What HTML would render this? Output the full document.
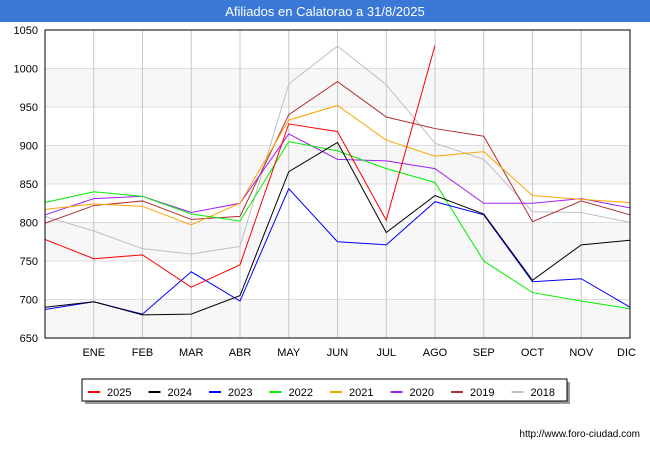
<!DOCTYPE html>
<html><head><meta charset="utf-8"><style>
body{margin:0;width:650px;height:450px;background:#fff;font-family:"Liberation Sans",sans-serif;overflow:hidden}
</style></head><body>
<svg width="650" height="450" xmlns="http://www.w3.org/2000/svg" font-family="Liberation Sans, sans-serif">
<rect x="0" y="0" width="650" height="22" fill="#3a78d8"/>
<text x="325" y="16" text-anchor="middle" fill="#fff" font-size="13">Afiliados en Calatorao a 31/8/2025</text>
<g id="grid"></g>
<g id="series"></g>
<rect x="45" y="30" width="585" height="308" fill="none" stroke="#000" stroke-width="1"/>
<g id="axes" font-size="11"></g>
<rect x="85" y="382" width="485" height="22" fill="#999"/>
<rect x="82" y="379" width="485" height="22" fill="#fff" stroke="#000"/>
<g id="legend" font-size="11"></g>
<text x="640" y="437" text-anchor="end" font-size="10" fill="#000">http://www.foro-ciudad.com</text>
</svg>
<script>
const months=["","ENE","FEB","MAR","ABR","MAY","JUN","JUL","AGO","SEP","OCT","NOV","DIC"];
const yTicks=[650,700,750,800,850,900,950,1000,1050];
const years=["2025","2024","2023","2022","2021","2020","2019","2018"];
const colors=["#ff0000","#000000","#0000ff","#00ee00","#ffa500","#a020f0","#b03030","#c0c0c0"];
const s2025=[778,753,758,716,745,928,918,803,1030];
const s2024=[690,697,680,681,705,866,904,787,835,811,725,771,777];
const s2023=[687,697,681,736,698,844,775,771,827,810,723,727,690];
const s2022=[826,840,834,811,802,905,893,870,852,750,709,698,688];
const s2021=[817,824,821,797,825,933,952,907,886,892,835,830,826];
const s2020=[810,831,834,813,825,915,882,880,870,825,825,831,819];
const s2019=[799,822,828,804,808,940,983,937,922,912,801,828,810];
const s2018=[808,789,766,759,769,980,1029,979,903,882,814,813,800];
const allSeries=[s2025,s2024,s2023,s2022,s2021,s2020,s2019,s2018];
const NS="http://www.w3.org/2000/svg";
const x0=45,x1=630,yTop=30,yBot=338;
const xs=i=>x0+i*(x1-x0)/12;
const ys=v=>yBot-(v-650)*(yBot-yTop)/400;
const grid=document.getElementById('grid'),axes=document.getElementById('axes'),ser=document.getElementById('series'),leg=document.getElementById('legend');
function mk(t,a,p){const e=document.createElementNS(NS,t);for(const k in a)e.setAttribute(k,a[k]);p.appendChild(e);return e;}
for(let i=0;i<yTicks.length-1;i++){
  if(i%2==0){const b=mk('rect',{x:x0,y:ys(yTicks[i+1]),width:x1-x0,height:ys(yTicks[i])-ys(yTicks[i+1]),fill:'#f7f7f7'},grid);
  
  }
}
yTicks.forEach(v=>{
  const l=mk('line',{x1:x0,x2:x1,y1:ys(v),y2:ys(v),stroke:'#ddd'},grid);
  
  
  const t=mk('text',{x:38,y:ys(v)+4,'text-anchor':'end'},axes);t.textContent=v;
  
  
});
months.forEach((m,i)=>{
  if(i>0){const l=mk('line',{x1:xs(i),x2:xs(i),y1:yTop,y2:yBot,stroke:'#c8c8c8'},grid);
  
  
  const t=mk('text',{x:xs(i),y:356,'text-anchor':i==12?'end':'middle'},axes);t.textContent=m;
  if(i==12)t.setAttribute('x',x1+6);
  
  }
});
for(let k=allSeries.length-1;k>=0;k--){
  const d=allSeries[k].map((v,i)=>xs(i)+','+ys(v)).join(' ');
  const p=mk('polyline',{points:d,fill:'none',stroke:colors[k],'stroke-width':1},ser);
  
  
}
years.forEach((y,k)=>{
  const lx=88+k*60.5;
  const l=mk('line',{x1:lx,x2:lx+12,y1:392,y2:392,stroke:colors[k],'stroke-width':2},leg);
  
  
  const t=mk('text',{x:lx+19,y:396},leg);t.textContent=y;
  
  
});
</script>
</body></html>
